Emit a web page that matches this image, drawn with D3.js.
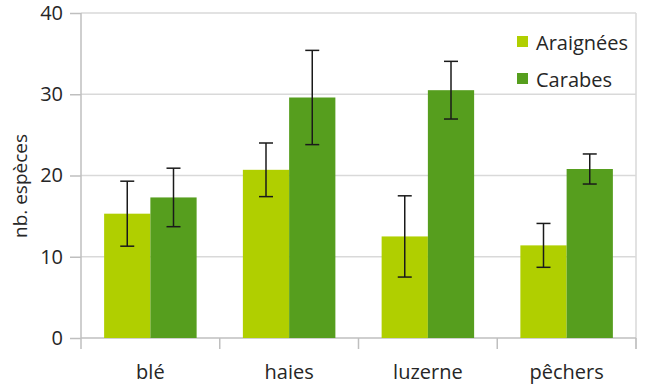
<!DOCTYPE html>
<html>
<head>
<meta charset="utf-8">
<script src="https://cdn.jsdelivr.net/npm/d3@7"></script>
<style>
  html, body { margin: 0; padding: 0; background: #fff; }
  svg text { font-family: "Open Sans", "Noto Sans", sans-serif; fill: #262626; }
</style>
</head>
<body>
<svg id="chart" width="650" height="385"></svg>
<script>
// Species counts per habitat, with error half-widths
const categories = ["blé", "haies", "luzerne", "pêchers"];
const seriesNames = ["Araignées", "Carabes"];
const araignees = [15.3, 20.7, 12.5, 11.4];
const carabes = [17.3, 29.6, 30.5, 20.8];
const errAraignees = [4.0, 3.3, 5.0, 2.7];
const errCarabes = [3.6, 5.8, 3.55, 1.85];
const yTicks = [0, 10, 20, 30, 40];
const colors = ["#b0cf00", "#569e1e"];

const values = [araignees, carabes];
const errors = [errAraignees, errCarabes];

const svg = d3.select("#chart");
const plotLeft = 81, plotRight = 636, plotTop = 13, plotBottom = 338;

const x = d3.scaleBand().domain(categories).range([plotLeft, plotRight]).padding(0);
const xs = d3.scaleBand().domain(seriesNames).range([0, x.bandwidth()])
  .paddingInner(0).paddingOuter(0.5);
const y = d3.scaleLinear().domain([0, 40]).range([plotBottom, plotTop]);

// horizontal gridlines
svg.append("g").selectAll("line").data(yTicks.filter(d => d > 0)).join("line")
  .attr("x1", plotLeft).attr("x2", plotRight)
  .attr("y1", d => y(d)).attr("y2", d => y(d))
  .attr("stroke", "#d9d9d9").attr("stroke-width", 1.5);

// right border of plot area
svg.append("line")
  .attr("x1", plotRight).attr("x2", plotRight).attr("y1", plotTop).attr("y2", plotBottom + 11)
  .attr("stroke", "#d9d9d9").attr("stroke-width", 1.5);

// y axis
const yAxis = svg.append("g").attr("transform", `translate(${plotLeft},0)`)
  .call(d3.axisLeft(y).tickValues(yTicks).tickSize(11).tickPadding(7));
yAxis.select(".domain").remove();
yAxis.selectAll(".tick line").attr("stroke", "#bfbfbf").attr("stroke-width", 1.5);
yAxis.selectAll(".tick text").style("font-size", "20px").attr("fill", "#262626");
svg.append("line")
  .attr("x1", plotLeft).attr("x2", plotLeft).attr("y1", plotTop).attr("y2", plotBottom + 11)
  .attr("stroke", "#bfbfbf").attr("stroke-width", 1.5);

// x axis: baseline, boundary ticks, labels
svg.append("line")
  .attr("x1", plotLeft).attr("x2", plotRight).attr("y1", plotBottom).attr("y2", plotBottom)
  .attr("stroke", "#bfbfbf").attr("stroke-width", 1.5);
const bounds = categories.map(c => x(c)).concat([x(categories[categories.length - 1]) + x.bandwidth()]);
svg.append("g").selectAll("line").data(bounds.slice(1)).join("line")
  .attr("x1", d => d).attr("x2", d => d)
  .attr("y1", plotBottom).attr("y2", plotBottom + 11)
  .attr("stroke", "#bfbfbf").attr("stroke-width", 1.5);
svg.append("g").selectAll("text").data(categories).join("text")
  .attr("x", d => x(d) + x.bandwidth() / 2)
  .attr("y", 379)
  .attr("text-anchor", "middle")
  .style("font-size", "20px")
  .text(d => d);

// y title
svg.append("text")
  .attr("transform", "translate(27,186) rotate(-90)")
  .attr("text-anchor", "middle")
  .style("font-size", "19px")
  .text("nb. espèces");

// bars
seriesNames.forEach((s, si) => {
  svg.append("g").selectAll("rect").data(categories).join("rect")
    .attr("x", (c) => x(c) + xs(s))
    .attr("width", xs.bandwidth())
    .attr("y", (c, i) => y(values[si][i]))
    .attr("height", (c, i) => y(0) - y(values[si][i]))
    .attr("fill", colors[si]);
});

// error bars
seriesNames.forEach((s, si) => {
  const g = svg.append("g");
  categories.forEach((c, i) => {
    const cx = x(c) + xs(s) + xs.bandwidth() / 2;
    const hi = y(values[si][i] + errors[si][i]);
    const lo = y(values[si][i] - errors[si][i]);
    g.append("line").attr("x1", cx).attr("x2", cx).attr("y1", hi).attr("y2", lo)
      .attr("stroke", "#1a1a1a").attr("stroke-width", 1.5);
    [hi, lo].forEach(yy => {
      g.append("line").attr("x1", cx - 7).attr("x2", cx + 7).attr("y1", yy).attr("y2", yy)
        .attr("stroke", "#1a1a1a").attr("stroke-width", 1.5);
    });
  });
});

// legend
const legend = svg.append("g").selectAll("g").data(seriesNames).join("g")
  .attr("transform", (d, i) => `translate(517,${36 + i * 37})`);
legend.append("rect").attr("width", 11).attr("height", 11)
  .attr("fill", (d, i) => colors[i]);
legend.append("text").attr("x", 19).attr("y", 14)
  .style("font-size", "20px").text(d => d);
</script>
</body>
</html>
